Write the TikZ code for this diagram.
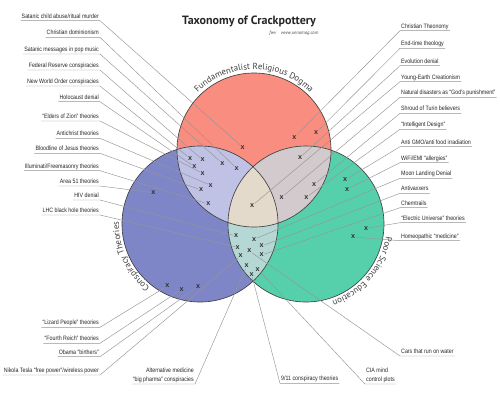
\documentclass[tikz,border=0pt]{standalone}
\usepackage{fontspec}
\usetikzlibrary{decorations.text}
\newfontfamily\labfont[FakeStretch=0.84]{Liberation Sans}
\newfontfamily\mkfont{Liberation Sans}
\newfontfamily\headfont{PT Sans}
\definecolor{dogma}{HTML}{F98D80}
\definecolor{consp}{HTML}{7F86C8}
\definecolor{science}{HTML}{56D0AA}
\definecolor{dogmaconsp}{HTML}{BFC1E5}
\definecolor{dogmascience}{HTML}{D3CACD}
\definecolor{conspscience}{HTML}{B5D8D5}
\definecolor{allthree}{HTML}{E3DACB}
\definecolor{leader}{HTML}{959595}

\begin{document}
\begin{tikzpicture}[x=1pt, y=-1pt,
  lbl/.style = {font=\labfont\fontsize{6.3}{9}\selectfont, inner xsep=1pt, inner ysep=1pt, text=black!85},
  one/.style = {lbl, text height=4.6pt, text depth=1.4pt},
  mk/.style = {font=\mkfont\bfseries\fontsize{7.2}{7}\selectfont, inner sep=0.6pt, text=black!80},
  lead/.style = {draw=leader, line width=0.45pt},
  ring/.style = {draw=black!75, line width=0.65pt}]

  \useasboundingbox[fill=white] (0,0) rectangle (500,400);

  \coordinate (cd) at (254,150);
  \coordinate (cc) at (200,224);
  \coordinate (cs) at (306,224);

  \fill[dogma] (cd) circle[radius=77];
  \fill[consp] (cc) circle[radius=78];
  \fill[science] (cs) circle[radius=78];
  \begin{scope}
    \clip (cd) circle[radius=77];
    \fill[dogmaconsp] (cc) circle[radius=78];
    \fill[dogmascience] (cs) circle[radius=78];
  \end{scope}
  \begin{scope}
    \clip (cc) circle[radius=78];
    \fill[conspscience] (cs) circle[radius=78];
  \end{scope}
  \begin{scope}
    \clip (cd) circle[radius=77];
    \clip (cc) circle[radius=78];
    \fill[allthree] (cs) circle[radius=78];
  \end{scope}
  \draw[ring] (cd) circle[radius=77];
  \draw[ring] (cc) circle[radius=78];
  \draw[ring] (cs) circle[radius=78];

  \node[font=\headfont\bfseries\fontsize{12}{14}\selectfont, text=black!85] (title) at (249,21) {Taxonomy of Crackpottery};
  \node[font=\headfont\itshape\fontsize{4.8}{5}\selectfont, text=black!70, anchor=east] (credit) at (322,33.5) {fwv\quad www.xenomag.com};

  \path[decorate, decoration={text along path, text align=center,
    text={|\headfont\fontsize{8.8}{9}\selectfont\color{black!75}|Fundamentalist Religious Dogma}}]
    (cd) ++(-170:80.5) arc[start angle=-170, end angle=-10, radius=80.5];
  \path[decorate, decoration={text along path, text align=center,
    text={|\headfont\fontsize{8.8}{9}\selectfont\color{black!75}|Conspiracy Theories}}]
    (cc) ++(-255:81) arc[start angle=-255, end angle=-155, radius=81];
  \path[decorate, decoration={text along path, text align=center,
    text={|\headfont\fontsize{8.8}{9}\selectfont\color{black!75}|Poor Science Education}}]
    (cs) ++(-5:81) arc[start angle=-5, end angle=85, radius=81];

  \node[mk] (xsatanic) at (242.7,147.3) {x};
  \node[mk] (xdomin) at (236.7,168.3) {x};
  \node[mk] (xpopmusic) at (222.3,163.3) {x};
  \node[mk] (xfed) at (202.7,160) {x};
  \node[mk] (xnwo) at (190,158.3) {x};
  \node[mk] (xholocaust) at (194.3,166.7) {x};
  \node[mk] (xzion) at (202.7,173.3) {x};
  \node[mk] (xantichrist) at (210.7,185.3) {x};
  \node[mk] (xbloodline) at (201,190) {x};
  \node[mk] (xilluminati) at (208.3,204) {x};
  \node[mk] (xarea) at (153.3,192.7) {x};
  \node[mk] (xhiv) at (236,236) {x};
  \node[mk] (xlhc) at (237.7,247.3) {x};
  \node[mk] (xlizard) at (167.3,286) {x};
  \node[mk] (xreich) at (181.7,289.3) {x};
  \node[mk] (xobama) at (198,286.5) {x};
  \node[mk] (xtesla) at (240.7,256) {x};
  \node[mk] (xpharma) at (246.7,266) {x};
  \node[mk] (xnineeleven) at (251.7,275) {x};
  \node[mk] (xcia) at (257.7,269.3) {x};
  \node[mk] (xcars) at (249.3,251) {x};
  \node[mk] (xtheonomy) at (294.3,137.3) {x};
  \node[mk] (xendtime) at (316,132.7) {x};
  \node[mk] (xevolution) at (300,157.7) {x};
  \node[mk] (xyoungearth) at (252,205.7) {x};
  \node[mk] (xdisasters) at (281.7,197.3) {x};
  \node[mk] (xshroud) at (314,184.7) {x};
  \node[mk] (xdesign) at (306.3,197.3) {x};
  \node[mk] (xgmo) at (345,180) {x};
  \node[mk] (xwifi) at (347,189.3) {x};
  \node[mk] (xmoon) at (254,239.3) {x};
  \node[mk] (xvax) at (261.7,246) {x};
  \node[mk] (xchemtrails) at (261.7,255) {x};
  \node[mk] (xelectric) at (366,228.3) {x};
  \node[mk] (xhomeopathy) at (353,237) {x};

  \node[one, anchor=south east] (satanic) at (100,20.7) {Satanic child abuse/ritual murder};
  \node[one, anchor=south east] (domin) at (100,37.3) {Christian dominionism};
  \node[one, anchor=south east] (popmusic) at (100,54) {Satanic messages in pop music};
  \node[one, anchor=south east] (fed) at (100,70) {Federal Reserve conspiracies};
  \node[one, anchor=south east] (nwo) at (100,86) {New World Order conspiracies};
  \node[one, anchor=south east] (holocaust) at (100,101.7) {Holocaust denial};
  \node[one, anchor=south east] (zion) at (100,121) {“Elders of Zion” theories};
  \node[one, anchor=south east] (antichrist) at (100,138.3) {Antichrist theories};
  \node[one, anchor=south east] (bloodline) at (100,153.3) {Bloodline of Jesus theories};
  \node[one, anchor=south east] (illuminati) at (100,170.7) {Illuminati/Freemasonry theories};
  \node[one, anchor=south east] (area) at (100,186) {Area 51 theories};
  \node[one, anchor=south east] (hiv) at (100,200) {HIV denial};
  \node[one, anchor=south east] (lhc) at (100,215) {LHC black hole theories};
  \node[one, anchor=south east] (lizard) at (100,327.3) {“Lizard People” theories};
  \node[one, anchor=south east] (reich) at (100,343.3) {“Fourth Reich” theories};
  \node[one, anchor=south east] (obama) at (100,356.7) {Obama “birthers”};
  \node[one, anchor=south east] (tesla) at (100,375) {Nikola Tesla “free power”/wireless power};
  \node[lbl, anchor=south east, align=right] (pharma) at (195,384) {Alternative medicine\\“big pharma” conspiracies};
  \node[one, anchor=south west] (nineeleven) at (280,383.3) {9/11 conspiracy theories};
  \node[lbl, anchor=south west, align=left] (cia) at (365,384) {CIA mind\\control plots};
  \node[one, anchor=south west] (cars) at (400,356) {Cars that run on water};

  \node[one, anchor=south west] (theonomy) at (400,30.7) {Christian Theonomy};
  \node[one, anchor=south west] (endtime) at (400,48.3) {End-time theology};
  \node[one, anchor=south west] (evolution) at (400,65.7) {Evolution denial};
  \node[one, anchor=south west] (youngearth) at (400,81.7) {Young-Earth Creationism};
  \node[one, anchor=south west] (disasters) at (400,97.3) {Natural disasters as “God’s punishment”};
  \node[one, anchor=south west] (shroud) at (400,113.3) {Shroud of Turin believers};
  \node[one, anchor=south west] (design) at (400,129.3) {“Intelligent Design”};
  \node[one, anchor=south west] (gmo) at (400,146.7) {Anti GMO/anti food irradiation};
  \node[one, anchor=south west] (wifi) at (400,162.7) {WiFi/EMI “allergies”};
  \node[one, anchor=south west] (moon) at (400,178.3) {Moon Landing Denial};
  \node[one, anchor=south west] (vax) at (400,193.3) {Antivaxxers};
  \node[one, anchor=south west] (chemtrails) at (400,207.7) {Chemtrails};
  \node[one, anchor=south west] (electric) at (400,222.7) {“Electric Universe” theories};
  \node[one, anchor=south west] (homeopathy) at (400,240.7) {Homeopathic “medicine”};

  \draw[lead] (satanic.south west) -- (satanic.south east) -- (xsatanic);
  \draw[lead] (domin.south west) -- (domin.south east) -- (xdomin);
  \draw[lead] (popmusic.south west) -- (popmusic.south east) -- (xpopmusic);
  \draw[lead] (fed.south west) -- (fed.south east) -- (xfed);
  \draw[lead] (nwo.south west) -- (nwo.south east) -- (xnwo);
  \draw[lead] (holocaust.south west) -- (holocaust.south east) -- (xholocaust);
  \draw[lead] (zion.south west) -- (zion.south east) -- (xzion);
  \draw[lead] (antichrist.south west) -- (antichrist.south east) -- (xantichrist);
  \draw[lead] (bloodline.south west) -- (bloodline.south east) -- (xbloodline);
  \draw[lead] (illuminati.south west) -- (illuminati.south east) -- (xilluminati);
  \draw[lead] (area.south west) -- (area.south east) -- (xarea);
  \draw[lead] (hiv.south west) -- (hiv.south east) -- (xhiv);
  \draw[lead] (lhc.south west) -- (lhc.south east) -- (xlhc);
  \draw[lead] (lizard.south west) -- (lizard.south east) -- (xlizard);
  \draw[lead] (reich.south west) -- (reich.south east) -- (xreich);
  \draw[lead] (obama.south west) -- (obama.south east) -- (xobama);
  \draw[lead] (tesla.south west) -- (tesla.south east) -- (xtesla);
  \draw[lead] (pharma.south west) -- (pharma.south east) -- (xpharma);
  \draw[lead] (nineeleven.south east) -- (nineeleven.south west) -- (xnineeleven);
  \draw[lead] (cia.south east) -- (cia.south west) -- (xcia);
  \draw[lead] (cars.south east) -- (cars.south west) -- (xcars);

  \draw[lead] (theonomy.south east) -- (theonomy.south west) -- (xtheonomy);
  \draw[lead] (endtime.south east) -- (endtime.south west) -- (xendtime);
  \draw[lead] (evolution.south east) -- (evolution.south west) -- (xevolution);
  \draw[lead] (youngearth.south east) -- (youngearth.south west) -- (xyoungearth);
  \draw[lead] (disasters.south east) -- (disasters.south west) -- (xdisasters);
  \draw[lead] (shroud.south east) -- (shroud.south west) -- (xshroud);
  \draw[lead] (design.south east) -- (design.south west) -- (xdesign);
  \draw[lead] (gmo.south east) -- (gmo.south west) -- (xgmo);
  \draw[lead] (wifi.south east) -- (wifi.south west) -- (xwifi);
  \draw[lead] (moon.south east) -- (moon.south west) -- (xmoon);
  \draw[lead] (vax.south east) -- (vax.south west) -- (xvax);
  \draw[lead] (chemtrails.south east) -- (chemtrails.south west) -- (xchemtrails);
  \draw[lead] (electric.south east) -- (electric.south west) -- (xelectric);
  \draw[lead] (homeopathy.south east) -- (homeopathy.south west) -- (xhomeopathy);
\end{tikzpicture}
\end{document}
